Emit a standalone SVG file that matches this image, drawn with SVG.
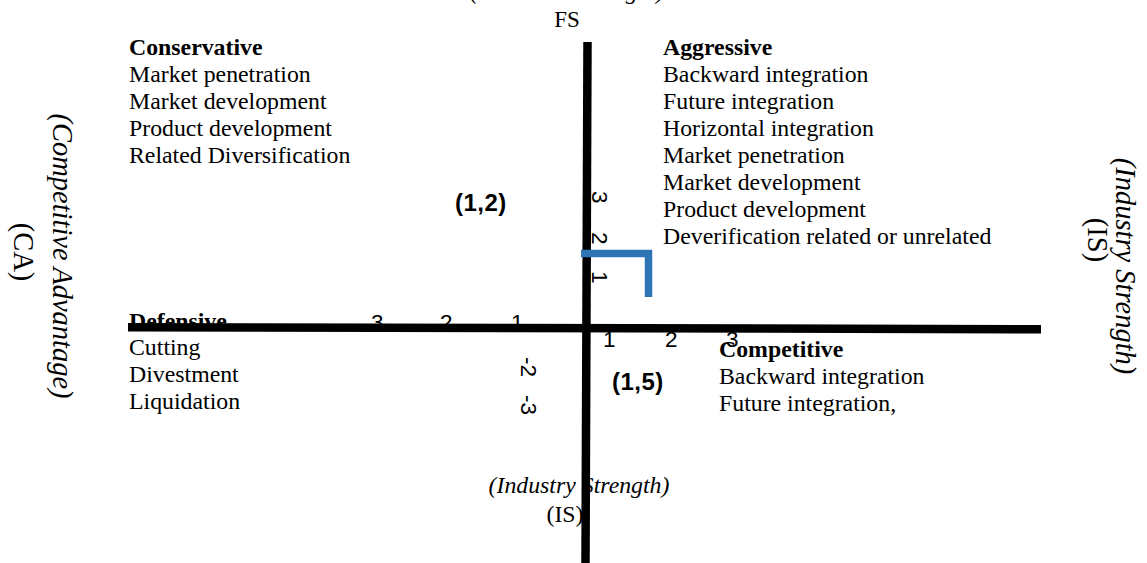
<svg xmlns="http://www.w3.org/2000/svg" width="1147" height="563" viewBox="0 0 1147 563">
<style>
.t{font-family:"Liberation Serif","Times New Roman",serif;font-size:23.8px;fill:#000}
.b{font-weight:bold}
.i{font-style:italic}
.side{font-family:"Liberation Serif","Times New Roman",serif;font-size:28.5px;fill:#000}
.n{font-family:"Liberation Sans",Arial,sans-serif;font-size:22.5px;fill:#000}
.pt{font-family:"Liberation Sans",Arial,sans-serif;font-size:24px;font-weight:bold;letter-spacing:0.5px;fill:#000}
.ax{stroke:#000;stroke-width:8.5;fill:none}
.br{stroke:#2E75B6;stroke-width:7.5;fill:none}
</style>
<rect width="1147" height="563" fill="#fff"/>

<g id="top-label">
<text class="t i" x="567" y="-1" text-anchor="middle">(Financial Strength)</text>
<text class="t" x="567" y="27" text-anchor="middle" style="font-size:23px">FS</text>
</g>

<g id="conservative">
<text class="t b" x="129" y="55">Conservative</text>
<text class="t" x="129" y="82">Market penetration</text>
<text class="t" x="129" y="109">Market development</text>
<text class="t" x="129" y="136">Product development</text>
<text class="t" x="129" y="163">Related Diversification</text>
</g>

<g id="aggressive">
<text class="t b" x="663" y="55">Aggressive</text>
<text class="t" x="663" y="82">Backward integration</text>
<text class="t" x="663" y="109">Future integration</text>
<text class="t" x="663" y="136">Horizontal integration</text>
<text class="t" x="663" y="163">Market penetration</text>
<text class="t" x="663" y="190">Market development</text>
<text class="t" x="663" y="217">Product development</text>
<text class="t" x="663" y="244">Deverification related or unrelated</text>
</g>

<g id="defensive">
<text class="t b" x="129" y="329">Defensive</text>
<text class="t" x="129" y="355">Cutting</text>
<text class="t" x="129" y="382">Divestment</text>
<text class="t" x="129" y="409">Liquidation</text>
</g>

<g id="competitive">
<text class="t b" x="719" y="357">Competitive</text>
<text class="t" x="719" y="384">Backward integration</text>
<text class="t" x="719" y="411">Future integration,</text>
</g>

<g id="left-label">
<text class="side i" transform="translate(53,256) rotate(90)" text-anchor="middle">(Competitive Advantage)</text>
<text class="side" transform="translate(14,252) rotate(90)" text-anchor="middle">(CA)</text>
</g>

<g id="right-label">
<text class="side i" transform="translate(1116,266) rotate(90)" text-anchor="middle">(Industry Strength)</text>
<text class="side" transform="translate(1088,240) rotate(90)" text-anchor="middle">(IS)</text>
</g>

<g id="bottom-label">
<text class="t i" x="579" y="493" text-anchor="middle">(Industry Strength)</text>
<text class="t" x="565" y="522" text-anchor="middle">(IS)</text>
</g>

<g id="points">
<text class="pt" x="455" y="211">(1,2)</text>
<text class="pt" x="612" y="390">(1,5)</text>
</g>

<g id="ticks">
<text class="n" transform="translate(592,191) rotate(90)">3</text>
<text class="n" transform="translate(592,232) rotate(90)">2</text>
<text class="n" transform="translate(592,271) rotate(90)">1</text>
<text class="n" transform="translate(521,357) rotate(90)">-2</text>
<text class="n" transform="translate(521,395) rotate(90)">-3</text>
<text class="n" x="371" y="330">3</text>
<text class="n" x="440" y="330">2</text>
<text class="n" x="511" y="330">1</text>
<text class="n" x="603" y="347">1</text>
<text class="n" x="665" y="347">2</text>
<text class="n" x="726" y="347">3</text>
</g>

<g id="connectors">
<line class="ax" x1="128" y1="327.2" x2="1041" y2="329.2"/>
<line class="ax" x1="587.5" y1="42" x2="585.5" y2="563"/>
<path class="br" d="M581 253.5 H648.5 V297"/>
</g>
</svg>
